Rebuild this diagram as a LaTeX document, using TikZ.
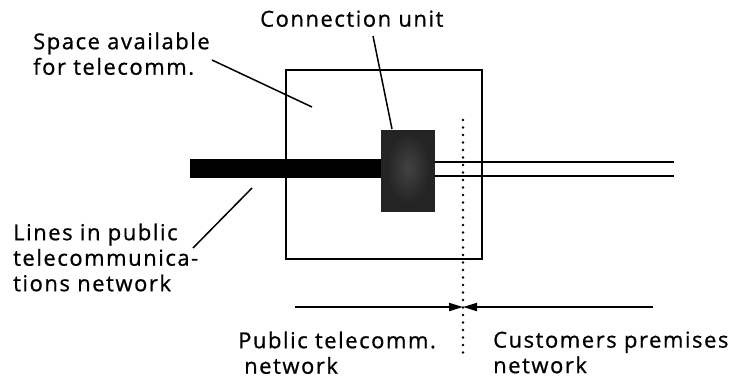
\documentclass[tikz,border=0pt]{standalone}
\usepackage{fontspec}
\setmainfont{Open Sans}[LetterSpace=7,FakeBold=0.8]
\usetikzlibrary{arrows.meta}
\begin{document}
\begin{tikzpicture}[x=1pt,y=-1pt,
  lbl/.style={inner sep=0pt,align=left,anchor=north west,font=\fontsize{22}{25.5}\selectfont},
  leader/.style={line width=1.5pt},
  thin/.style={line width=2pt},
  arr/.style={line width=2pt,-{Triangle[length=14pt,width=8pt]}}]
\useasboundingbox (0,0) rectangle (730,386);
\fill[white] (0,0) rectangle (730,386);
% main box
\node[draw,line width=1.6pt,minimum width=196pt,minimum height=189pt,inner sep=0pt,anchor=north west] (box) at (285,69) {};
% thin customer lines
\coordinate (c1s) at (435,162); \coordinate (c1e) at (674,162);
\coordinate (c2s) at (435,176); \coordinate (c2e) at (674,176);
\draw[thin] (c1s) -- (c1e);
\draw[thin] (c2s) -- (c2e);
% thick public line
\node[fill=black,minimum width=191pt,minimum height=19pt,inner sep=0pt,anchor=north west] (bar) at (190,159) {};
% connection unit
\node[fill=black!86,minimum width=54pt,minimum height=82pt,inner sep=0pt,anchor=north west] (cu) at (381,130) {};
\shade[inner color=black!74,outer color=black!86] (408,168) ellipse (22pt and 36pt);
% dotted boundary
\coordinate (dtop) at (463,120); \coordinate (dbot) at (463,358);
\draw[line width=2.6pt,line cap=round,dash pattern=on 0pt off 7.5pt] (dtop) -- (dbot);
% arrows
\coordinate (mid) at (463,307);
\coordinate (la) at (295,307); \coordinate (ra) at (653,307);
\draw[arr] (la) -- (mid);
\draw[arr] (ra) -- (mid);
% labels
\node[lbl] (space) at (33,32.3) {Space available\\for telecomm.};
\node[lbl] (conn) at (260,10.3) {Connection unit};
\node[lbl] (lines) at (13,223.3) {Lines in public\\telecommunica-\\tions network};
\node[lbl] (pub) at (238,331.3) {Public telecomm.\\\hspace*{6pt}network};
\node[lbl] (cust) at (493,331.3) {Customers premises\\network};
% leaders
\coordinate (sp1) at (212,60); \coordinate (sp2) at (312,107);
\coordinate (cn1) at (373,36); \coordinate (cn2) at (392,129);
\coordinate (ln1) at (252,188); \coordinate (ln2) at (193,248);
\draw[leader] (sp1) -- (sp2);
\draw[leader] (cn1) -- (cn2);
\draw[leader] (ln1) -- (ln2);
\end{tikzpicture}
\end{document}
